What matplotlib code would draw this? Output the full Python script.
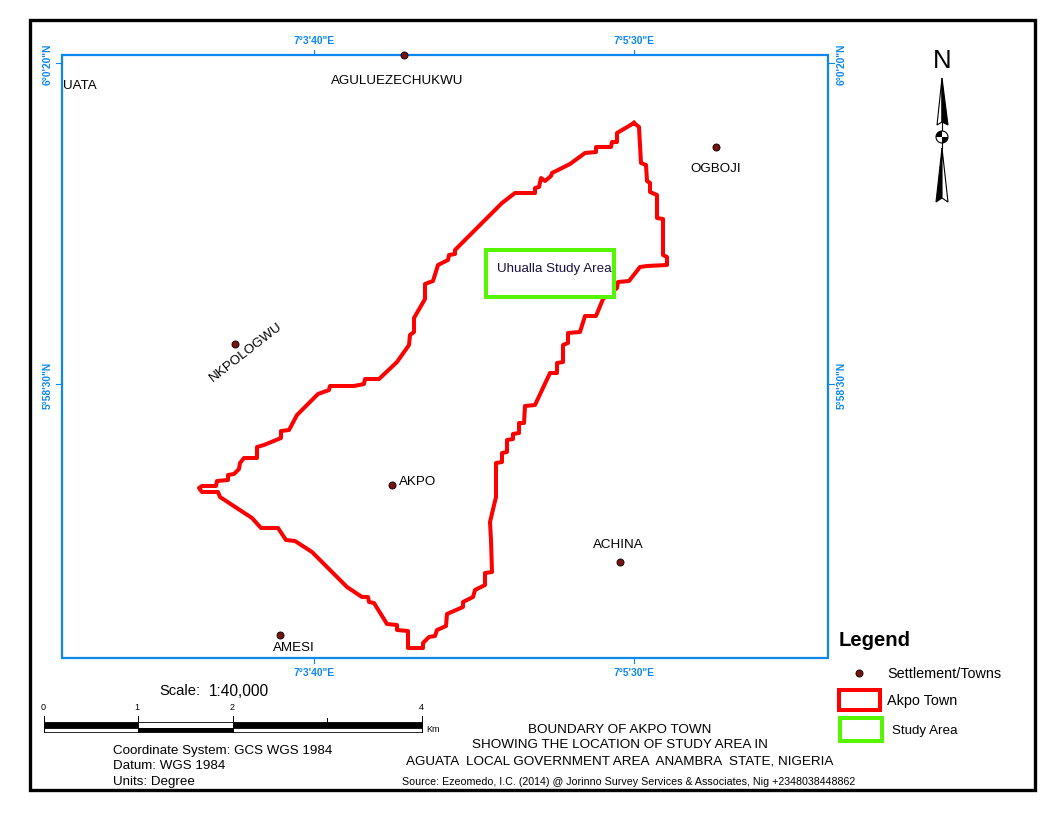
import matplotlib
matplotlib.use("Agg")
import matplotlib.pyplot as plt
from matplotlib.patches import Rectangle, Polygon, Circle, Wedge

plt.rcParams['font.family'] = ['Liberation Sans', 'DejaVu Sans']

# boundary, in map units (pixels of the layout page)
boundary_x = [634, 639, 641, 646, 647, 650, 650, 657, 657, 663, 663, 667, 667, 647, 640, 629, 618, 617, 603, 596, 585,
              580, 568, 568, 563, 563, 557, 557, 550, 535, 525, 524, 519, 519, 513, 513, 507, 507, 502, 502, 496, 496,
              490, 491, 492, 485, 485, 475, 473, 463, 463, 447, 446, 437, 435, 429, 423, 423, 408, 408, 397, 397, 387,
              374, 369, 368, 362, 347, 312, 295, 286, 278, 261, 252, 220, 218, 202, 199, 202, 216, 217, 228, 228, 234,
              239, 240, 244, 257, 257, 264, 281, 281, 289, 297, 318, 329, 330, 354, 364, 365, 379, 397, 409, 410, 414,
              414, 425, 425, 433, 438, 448, 449, 455, 455, 502, 515, 535, 535, 539, 541, 545, 551, 552, 570, 585, 596,
              596, 611, 612, 617, 617, 634]
boundary_y = [123, 127, 163, 165, 181, 183, 192, 195, 218, 219, 255, 257, 265, 266, 267, 281, 282, 288, 299, 316, 316,
              332, 333, 343, 345, 362, 363, 373, 373, 405, 406, 423, 423, 433, 434, 439, 440, 452, 453, 462, 463, 497,
              522, 540, 572, 573, 585, 590, 597, 602, 607, 614, 626, 630, 636, 637, 643, 648, 648, 631, 630, 625, 624,
              603, 602, 597, 597, 587, 552, 541, 540, 528, 528, 518, 497, 492, 492, 488, 486, 486, 481, 480, 475, 474,
              469, 463, 458, 458, 447, 445, 438, 431, 430, 415, 394, 390, 386, 386, 384, 379, 379, 362, 345, 335, 332,
              318, 299, 284, 281, 265, 260, 255, 254, 250, 203, 193, 193, 188, 187, 178, 181, 176, 173, 164, 153, 152,
              147, 147, 142, 142, 133, 123]

town_x = [392, 235, 280, 620, 716, 404]
town_y = [485, 344, 635, 562, 147, 55]

lon_labels = ['7°3\'40"E', '7°5\'30"E']
lon_x = [314, 634]
lat_labels = ['6°0\'20"N', '5°58\'30"N']
lat_y = [63, 384]

blue = '#0c87f0'
red = '#fe0000'
green = '#56f500'
point = '#7a1212'

fig = plt.figure(figsize=(10.56, 8.16), dpi=100)
ax = fig.add_axes([0, 0, 1, 1])
ax.set_xlim(0, 1056)
ax.set_ylim(816, 0)
ax.axis('off')

# page border and map frame
ax.add_patch(Rectangle((30, 20), 1005, 770, fill=False, ec='black', lw=2.4))
ax.add_patch(Rectangle((62, 55), 766, 603, fill=False, ec=blue, lw=1.6, zorder=2))

for lab, x in zip(lon_labels, lon_x):
    ax.plot([x, x], [50, 55], color=blue, lw=0.8)
    ax.plot([x, x], [658, 663], color=blue, lw=0.8)
    ax.text(x, 41, lab, color=blue, fontsize=7.4, fontweight='bold', ha='center', va='center')
    ax.text(x, 673, lab, color=blue, fontsize=7.4, fontweight='bold', ha='center', va='center')
for lab, y in zip(lat_labels, lat_y):
    ax.plot([56, 62], [y, y], color=blue, lw=0.8)
    ax.plot([828, 834], [y, y], color=blue, lw=0.8)
    ax.text(48, y + 1, lab, color=blue, fontsize=7.4, fontweight='bold', ha='center', va='center', rotation=90)
    ax.text(842, y + 1, lab, color=blue, fontsize=7.4, fontweight='bold', ha='center', va='center', rotation=90)

# town boundary
ax.plot(boundary_x, boundary_y, color=red, lw=2.9, solid_joinstyle='round', zorder=3)

# settlements
ax.scatter(town_x, town_y, s=26, color=point, edgecolors='black', linewidths=0.6, zorder=4)
ax.text(399, 482, 'AKPO', fontsize=9.6, ha='left', va='center')
ax.text(246, 352, 'NKPOLOGWU', fontsize=9.6, ha='center', va='center', rotation=38)
ax.text(294, 648, 'AMESI', fontsize=9.6, ha='center', va='center')
ax.text(618, 545, 'ACHINA', fontsize=9.6, ha='center', va='center')
ax.text(716, 169, 'OGBOJI', fontsize=9.6, ha='center', va='center')
ax.text(63, 86, 'UATA', fontsize=9.6, ha='left', va='center')
ax.text(397, 81, 'AGULUEZECHUKWU', fontsize=9.6, ha='center', va='center')

# study area box
ax.add_patch(Rectangle((486, 250), 128, 47, fc='white', ec=green, lw=2.9, zorder=5))
ax.text(497, 269, 'Uhualla Study Area', fontsize=9.6, color='#1a1040', ha='left', va='center', zorder=6)

# north arrow
ax.text(942, 61, 'N', fontsize=18.5, ha='center', va='center')
ax.add_patch(Polygon([(942, 78), (937, 125), (942, 122)], fc='white', ec='black', lw=0.8))
ax.add_patch(Polygon([(942, 78), (948, 125), (942, 122)], fc='black', ec='black', lw=0.8))
ax.add_patch(Polygon([(942, 148), (936, 202), (942, 198)], fc='black', ec='black', lw=0.8))
ax.add_patch(Polygon([(942, 148), (948, 202), (942, 198)], fc='white', ec='black', lw=0.8))
ax.plot([942, 942], [122, 148], color='black', lw=0.8)
ax.add_patch(Circle((942, 137), 6, fc='white', ec='black', lw=0.8, zorder=4))
ax.add_patch(Wedge((942, 137), 6, 0, 90, fc='black', ec='none', zorder=5))
ax.add_patch(Wedge((942, 137), 6, 180, 270, fc='black', ec='none', zorder=5))

# legend
ax.text(839, 640, 'Legend', fontsize=14.6, fontweight='bold', ha='left', va='center')
ax.scatter([859], [673], s=26, color=point, edgecolors='black', linewidths=0.6)
ax.text(887, 674, 'Settlement/Towns', fontsize=10.4, ha='left', va='center')
ax.add_patch(Rectangle((839, 690), 41, 20, fill=False, ec=red, lw=2.9))
ax.text(887, 701, 'Akpo Town', fontsize=10.4, ha='left', va='center')
ax.add_patch(Rectangle((840, 718), 42, 23, fill=False, ec=green, lw=2.9))
ax.text(892, 731, 'Study Area', fontsize=9.6, ha='left', va='center')

# scale bar
ax.text(159, 691, 'Scale:', fontsize=10.6, ha='left', va='center')
ax.text(209, 691, '1:40,000', fontsize=11.2, ha='left', va='center')
ax.add_patch(Rectangle((44, 722), 94, 6, fc='black', ec='black', lw=0.6))
ax.add_patch(Rectangle((44, 728), 94, 4, fc='white', ec='black', lw=0.6))
ax.add_patch(Rectangle((138, 722), 95, 6, fc='white', ec='black', lw=0.6))
ax.add_patch(Rectangle((138, 728), 95, 4, fc='black', ec='black', lw=0.6))
ax.add_patch(Rectangle((233, 722), 189, 6, fc='black', ec='black', lw=0.6))
ax.add_patch(Rectangle((233, 728), 189, 4, fc='white', ec='black', lw=0.6))
for x, lab in zip([44, 138, 233, 422], ['0', '1', '2', '4']):
    ax.plot([x, x], [716, 732], color='black', lw=0.7)
    ax.text(x - 1, 707, lab, fontsize=6.5, ha='center', va='center')
ax.plot([327, 327], [718, 722], color='black', lw=0.7)
ax.text(426, 729, 'Km', fontsize=6.5, ha='left', va='center')

# notes and title
ax.text(113, 751, 'Coordinate System: GCS WGS 1984', fontsize=9.6, ha='left', va='center')
ax.text(113, 766, 'Datum: WGS 1984', fontsize=9.6, ha='left', va='center')
ax.text(113, 782, 'Units: Degree', fontsize=9.6, ha='left', va='center')
ax.text(620, 730, 'BOUNDARY OF AKPO TOWN', fontsize=9.7, ha='center', va='center')
ax.text(620, 745, 'SHOWING THE LOCATION OF STUDY AREA IN', fontsize=9.7, ha='center', va='center')
ax.text(620, 761, 'AGUATA  LOCAL GOVERNMENT AREA  ANAMBRA  STATE, NIGERIA', fontsize=9.7, ha='center', va='center')
ax.text(629, 782, 'Source: Ezeomedo, I.C. (2014) @ Jorinno Survey Services & Associates, Nig +2348038448862',
        fontsize=7.7, ha='center', va='center')

fig.savefig("out.png", dpi=100)
